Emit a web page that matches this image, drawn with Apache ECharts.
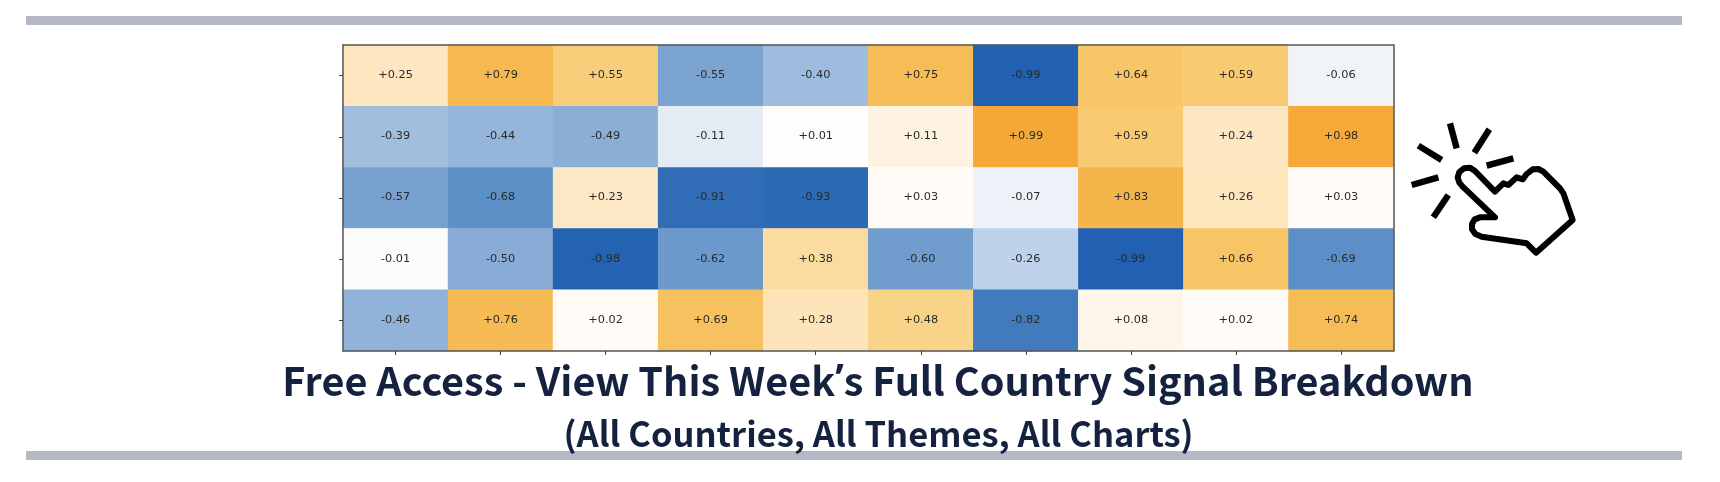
<!DOCTYPE html>
<html>
<head>
<meta charset="utf-8">
<style>html,body{margin:0;padding:0;background:#fff}#c{width:1720px;height:482px}</style>
<script src="https://cdn.jsdelivr.net/npm/echarts@6/dist/echarts.min.js"></script>
</head>
<body>
<div id="c"></div>
<script>
const columns = ['C1','C2','C3','C4','C5','C6','C7','C8','C9','C10'];
const rows = ['R1','R2','R3','R4','R5'];
const row1 = [0.25,0.79,0.55,-0.55,-0.40,0.75,-0.99,0.64,0.59,-0.06];
const row2 = [-0.39,-0.44,-0.49,-0.11,0.01,0.11,0.99,0.59,0.24,0.98];
const row3 = [-0.57,-0.68,0.23,-0.91,-0.93,0.03,-0.07,0.83,0.26,0.03];
const row4 = [-0.01,-0.50,-0.98,-0.62,0.38,-0.60,-0.26,-0.99,0.66,-0.69];
const row5 = [-0.46,0.76,0.02,0.69,0.28,0.48,-0.82,0.08,0.02,0.74];
const colourStops = ['#2060b0','#4e85c3','#88acd5','#c0d4eb','#fffefd','#fde6c0','#f9d283','#f6bc55','#f4a737'];
const titleStart = 'Free Access - View This Week';
const titleEnd = 's Full Country Signal Breakdown';
const subtitleText = '(All Countries, All Themes, All Charts)';

const cells = [];
[row1,row2,row3,row4,row5].forEach((r,y)=>r.forEach((v,x)=>cells.push([x,y,v])));
const frame = {show:true,onZero:false,lineStyle:{color:'#555',width:1.5}};
const noTick = {show:false};
const chart = echarts.init(document.getElementById('c'),null,{renderer:'canvas'});
const handIcon = [[315,275],[255,213],[240,203],[222,205],[208,216],[203,232],[208,248],[218,260],[315,352],[270,352],[254,358],[246,372],[246,388],[256,402],[275,410],[410,430],[438,458],[548,360],[520,280],[510,265],[460,215],[445,207],[428,208],[410,222],[398,238],[380,232],[355,255],[340,250]];
const rayIcons = [[[85,137],[155,180]],[[180,70],[200,145]],[[298,88],[253,158]],[[290,197],[370,175]],[[65,255],[145,232]],[[175,285],[130,352]]];
const iconPlace = {x:1390,y:100,scaleX:1/3,scaleY:1/3,silent:true};
const inkColour = '#14213f';
chart.setOption({
  animation:false,
  backgroundColor:'#fff',
  title:[
    {text:'{a|'+titleStart+'}{b|\u2019}{a|'+titleEnd+'}',left:873,top:356,textAlign:'center',
     textStyle:{rich:{
       a:{fontFamily:'Noto Sans CJK SC',fontWeight:'bold',fontSize:39.6,color:inkColour},
       b:{fontFamily:'Noto Sans',fontWeight:'bold',fontSize:39.6,color:inkColour}}}},
    {text:subtitleText,left:873.6,top:412,textAlign:'center',textStyle:{fontFamily:'Noto Sans CJK SC',fontWeight:'bold',fontSize:34.5,color:inkColour}}
  ],
  grid:{left:343,top:45,width:1050.5,height:306,containLabel:false},
  xAxis:[
    {type:'category',data:columns,position:'bottom',z:5,axisLine:frame,axisTick:{show:true,alignWithLabel:true,length:4,lineStyle:{color:'#444',width:1}},axisLabel:{show:false},splitLine:{show:false}},
    {type:'category',data:columns,position:'top',z:5,axisLine:frame,axisTick:noTick,axisLabel:{show:false},splitLine:{show:false}}
  ],
  yAxis:[
    {type:'category',data:rows,inverse:true,position:'left',z:5,axisLine:frame,axisTick:{show:true,alignWithLabel:true,length:4,lineStyle:{color:'#444',width:1}},axisLabel:{show:false},splitLine:{show:false}},
    {type:'category',data:rows,inverse:true,position:'right',z:5,axisLine:frame,axisTick:noTick,axisLabel:{show:false},splitLine:{show:false}}
  ],
  visualMap:{show:false,type:'continuous',min:-1,max:1,dimension:2,seriesIndex:0,inRange:{color:colourStops}},
  series:[{
    type:'heatmap',
    data:cells,
    itemStyle:{borderWidth:0},
    emphasis:{disabled:true},
    label:{show:true,fontFamily:'DejaVu Sans',fontSize:11.3,color:'#2a2a2a',offset:[0,-0.5],
      formatter:p=>(p.value[2]>=0?'+':'-')+Math.abs(p.value[2]).toFixed(2)}
  }],
  graphic:[
    {type:'rect',shape:{x:26,y:16,width:1656,height:9},style:{fill:'#b4b9c3'},silent:true},
    {type:'rect',shape:{x:26,y:451,width:1656,height:9},style:{fill:'#b4b9c3'},silent:true},
    Object.assign({type:'polygon',shape:{points:handIcon},style:{fill:'none',stroke:'#000',lineWidth:18,lineJoin:'round'}},iconPlace)
  ].concat(rayIcons.map(r=>Object.assign({type:'polyline',shape:{points:r},style:{fill:'none',stroke:'#000',lineWidth:19}},iconPlace)))
});
</script>
</body>
</html>
